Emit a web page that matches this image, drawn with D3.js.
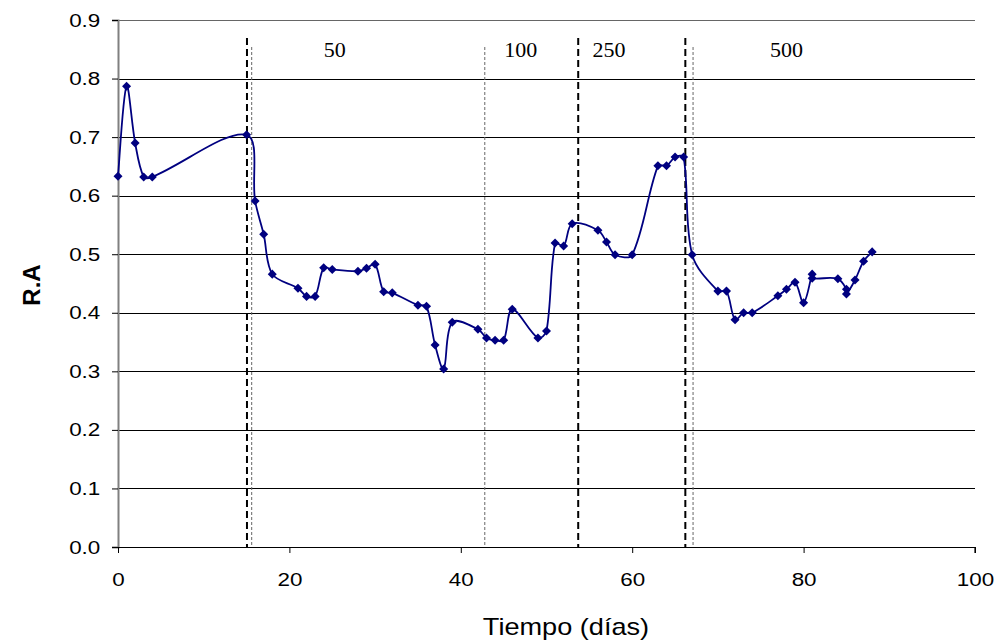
<!DOCTYPE html>
<html>
<head>
<meta charset="utf-8">
<script src="https://cdn.jsdelivr.net/npm/d3@7"></script>
<style>
  html, body { margin: 0; padding: 0; background: #fff; }
  svg { display: block; }
</style>
</head>
<body>
<svg id="chart" width="1000" height="643"></svg>
<script>
// Tiempo (días) and R.A readings
const dias = [0, 1, 2, 3, 4, 15, 16, 17, 18, 21, 22, 23, 24, 25, 28, 29, 30, 31, 32, 35, 36, 37, 38, 39,
  42, 43, 44, 45, 46, 49, 50, 51, 52, 53, 56, 57, 58, 60, 63, 64, 65, 66, 67, 70, 71, 72, 73, 74,
  77, 78, 79, 80, 81, 81, 84, 85, 85, 86, 87, 88];
const ra = [0.633, 0.787, 0.690, 0.632, 0.632, 0.704, 0.591, 0.534, 0.466, 0.442, 0.428, 0.428, 0.477, 0.474,
  0.471, 0.476, 0.483, 0.436, 0.434, 0.413, 0.411, 0.345, 0.304, 0.384, 0.372, 0.357, 0.353, 0.353, 0.406,
  0.357, 0.369, 0.519, 0.514, 0.552, 0.541, 0.521, 0.499, 0.499, 0.651, 0.651, 0.666, 0.666, 0.499,
  0.437, 0.437, 0.388, 0.400, 0.400, 0.429, 0.440, 0.452, 0.417, 0.466, 0.459, 0.458, 0.440, 0.432,
  0.456, 0.488, 0.504];

// Phase boundaries: heavy dashed and fine dotted markers
const limitesGruesos = [15.05, 53.7, 66.2];
const limitesFinos = [15.6, 42.8, 67.1];
// Phase labels and their day positions
const fases = ["50", "100", "250", "500"];
const fasesPos = [25.3, 47.0, 57.3, 78.0];

const xTicks = [0, 20, 40, 60, 80, 100];
const yTicks = [0, 0.1, 0.2, 0.3, 0.4, 0.5, 0.6, 0.7, 0.8, 0.9];

const SANS = "Liberation Sans, Arial, sans-serif";
const svg = d3.select("#chart");
const m = { left: 118, right: 975, top: 20, bottom: 547 };

const x = d3.scaleLinear().domain([0, 100]).range([m.left, m.right]);
const y = d3.scaleLinear().domain([0, 0.9]).range([m.bottom, m.top]);

// Horizontal gridlines
svg.append("g").selectAll("line").data(yTicks.slice(1)).join("line")
  .attr("x1", m.left).attr("x2", m.right)
  .attr("y1", d => Math.round(y(d)) + 0.5).attr("y2", d => Math.round(y(d)) + 0.5)
  .attr("stroke", (d, i) => i === yTicks.length - 2 ? "#666" : "#000")
  .attr("stroke-width", 1);

// Y axis
const yAxis = d3.axisLeft(y).tickValues(yTicks).tickFormat(d3.format(".1f")).tickSize(6).tickPadding(0);
const gy = svg.append("g").attr("transform", `translate(${m.left},0)`).call(yAxis);
gy.select(".domain").attr("stroke", "#808080").attr("stroke-width", 2);
gy.selectAll(".tick line").attr("stroke", "#000");
gy.selectAll("text")
  .attr("x", -15)
  .attr("transform", "scale(1.18,1)")
  .attr("font-family", SANS).attr("font-size", 19).attr("fill", "#000");

// X axis
const xAxis = d3.axisBottom(x).tickValues(xTicks).tickFormat(d3.format("d")).tickSize(6).tickPadding(20);
const gx = svg.append("g").attr("transform", `translate(0,${m.bottom})`).call(xAxis);
gx.select(".domain").attr("stroke", "#000").attr("stroke-width", 1.2)
  .attr("d", `M${m.left},0.5H${m.right}V6`);
gx.selectAll(".tick line").attr("stroke", "#000");
gx.selectAll("text")
  .attr("transform", "scale(1.18,1)")
  .attr("font-family", SANS).attr("font-size", 19).attr("fill", "#000");

// Phase boundary lines
svg.append("g").selectAll("line").data(limitesGruesos).join("line")
  .attr("x1", d => x(d)).attr("x2", d => x(d))
  .attr("y1", 38).attr("y2", m.bottom)
  .attr("stroke", "#000").attr("stroke-width", 2)
  .attr("stroke-dasharray", "7,4");
svg.append("g").selectAll("line").data(limitesFinos).join("line")
  .attr("x1", d => x(d)).attr("x2", d => x(d))
  .attr("y1", 47).attr("y2", m.bottom)
  .attr("stroke", "#666").attr("stroke-width", 1)
  .attr("stroke-dasharray", "3,2");

// Phase labels
svg.append("g").selectAll("text").data(fases).join("text")
  .attr("x", (d, i) => x(fasesPos[i]))
  .attr("y", 57)
  .attr("text-anchor", "middle")
  .attr("font-family", "Liberation Serif, Times New Roman, serif")
  .attr("font-size", 22)
  .text(d => d);

// Smoothed series: cubic Bezier through every point, with tangents split
// in proportion to the neighbouring chord lengths to avoid overshoot on short segments
const pts = dias.map((d, i) => [x(d), y(ra[i])]);
function suave(p) {
  const path = d3.path();
  const n = p.length;
  const dist = (a, b) => Math.hypot(b[0] - a[0], b[1] - a[1]);
  const ctrl = p.map((pi, i) => {
    const prev = p[Math.max(i - 1, 0)], next = p[Math.min(i + 1, n - 1)];
    const tx = next[0] - prev[0], ty = next[1] - prev[1];
    const dl = i > 0 ? dist(prev, pi) : 0, dr = i < n - 1 ? dist(pi, next) : 0;
    const s = dl + dr || 1;
    const fl = (i === 0 || i === n - 1) ? 1 / 3 : dl / s / 1.5;
    const fr = (i === 0 || i === n - 1) ? 1 / 3 : dr / s / 1.5;
    return {
      inn: [pi[0] - tx * fl * 0.5, pi[1] - ty * fl * 0.5],
      out: [pi[0] + tx * fr * 0.5, pi[1] + ty * fr * 0.5]
    };
  });
  path.moveTo(p[0][0], p[0][1]);
  for (let i = 1; i < n; i++) {
    const a = ctrl[i - 1].out, b = ctrl[i].inn;
    path.bezierCurveTo(a[0], a[1], b[0], b[1], p[i][0], p[i][1]);
  }
  return path.toString();
}
svg.append("path")
  .attr("d", suave(pts))
  .attr("fill", "none")
  .attr("stroke", "#000080")
  .attr("stroke-width", 1.8);

// Diamond markers
const diamante = d3.symbol().type(d3.symbolDiamond2).size(52);
svg.append("g").selectAll("path").data(dias).join("path")
  .attr("transform", (d, i) => `translate(${x(d)},${y(ra[i])})`)
  .attr("d", diamante)
  .attr("fill", "#000080");

// Axis titles
svg.append("text")
  .attr("transform", `translate(566,635) scale(1.18,1)`)
  .attr("text-anchor", "middle")
  .attr("font-family", SANS)
  .attr("font-size", 23)
  .text("Tiempo (días)");
svg.append("text")
  .attr("transform", `translate(40,285) rotate(-90)`)
  .attr("text-anchor", "middle")
  .attr("font-family", SANS)
  .attr("font-size", 24)
  .attr("font-weight", "bold")
  .text("R.A");
</script>
</body>
</html>
